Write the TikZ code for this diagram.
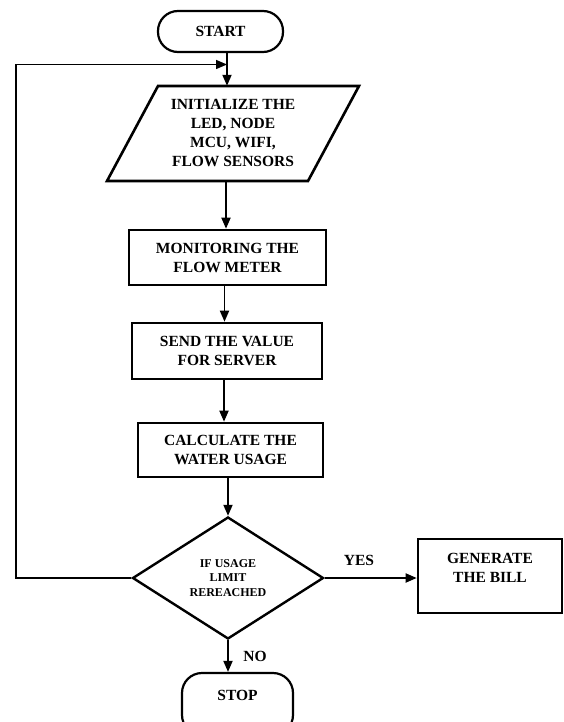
\documentclass[tikz,border=0pt]{standalone}
\usepackage{fontspec}
\setmainfont{Liberation Serif}
\usetikzlibrary{shapes.geometric,arrows.meta}
\begin{document}
\begin{tikzpicture}[x=1pt,y=-1pt,
  every node/.style={font=\bfseries\fontsize{15.5}{19}\selectfont, align=center, inner sep=0pt},
  term/.style={draw, line width=2.2pt, rounded corners=20pt, minimum width=125pt, minimum height=41pt},
  procbox/.style={draw, line width=2.6pt, rectangle},
  decbox/.style={draw, line width=2.4pt, diamond, minimum width=191pt, minimum height=122pt, font=\bfseries\fontsize{12}{14.5}\selectfont},
  arr/.style={line width=1.8pt, -{Triangle[length=11pt,width=9pt]}},
  loopline/.style={line width=1.5pt},
  lbl/.style={font=\bfseries\fontsize{15.5}{19}\selectfont}
]
\useasboundingbox (0,0) rectangle (563,722);
\fill[white] (0,0) rectangle (563,722);

\node[term] (start) at (220.5,31.5) {START};

\draw[line width=2.6pt, line join=miter] (158,86) -- (359,86) -- (308,181) -- (107,181) -- cycle;
\node[minimum width=200pt, minimum height=95pt] (init) at (233,133.5) {INITIALIZE THE\\LED, NODE\\MCU, WIFI,\\FLOW SENSORS};

\node[procbox, minimum width=197pt, minimum height=55pt] (mon) at (227.5,257.5) {MONITORING THE\\FLOW METER};
\node[procbox, minimum width=190pt, minimum height=56pt] (send) at (227,351) {SEND THE VALUE\\FOR SERVER};
\node[procbox, minimum width=185pt, minimum height=54pt] (calc) at (230.5,450) {CALCULATE THE\\WATER USAGE};
\node[decbox] (dec) at (228,578) {IF USAGE\\LIMIT\\REREACHED};
\node[procbox, minimum width=144pt, minimum height=74pt] (gen) at (490,576) {};
\node (gentext) at (490,568) {GENERATE\\THE BILL};
\node[term, minimum width=111pt, minimum height=62pt] (stop) at (237.5,704) {};
\node (stoptext) at (237.5,695) {STOP};

\coordinate (join) at (227,64.5);
\coordinate (lc) at (16,64.5);

\draw[arr] ([xshift=6.5pt]start.south) -- ([xshift=6.5pt]start.south |- init.north);
\draw[arr] ([xshift=-7pt]init.south) -- ([xshift=-7pt]init.south |- mon.north);
\draw[arr] ([xshift=-3pt]mon.south) -- ([xshift=-3pt]mon.south |- send.north);
\draw[arr] ([xshift=-3pt]send.south) -- ([xshift=-3pt]send.south |- calc.north);
\draw[arr] ([xshift=-2.5pt]calc.south) -- (dec.north);
\draw[arr] (dec.east) -- (dec.east -| gen.west);
\draw[arr] (dec.south) -- (dec.south |- stop.north);
\draw[loopline, -{Triangle[length=11pt,width=9pt]}] (dec.west) -| (lc) -- (join);

\node[lbl] (yes) at (359,560) {YES};
\node[lbl] (no) at (255,656) {NO};
\end{tikzpicture}
\end{document}
